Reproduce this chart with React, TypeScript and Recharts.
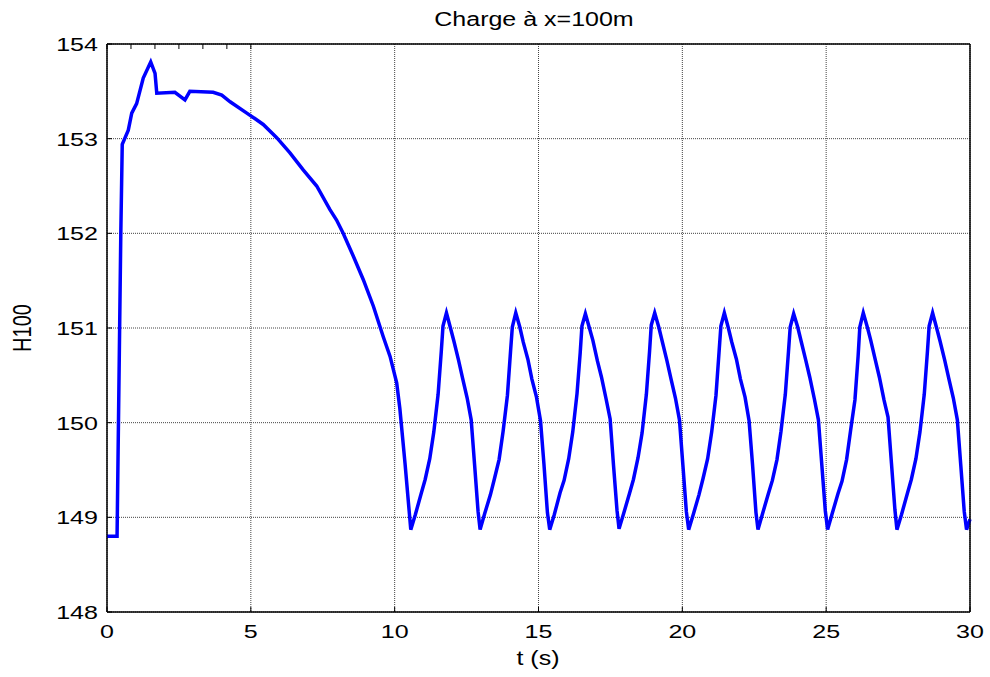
import { LineChart, Line, XAxis, YAxis, CartesianGrid, ReferenceArea } from 'recharts';

const T_TICKS = [0, 5, 10, 15, 20, 25, 30];
const H_TICKS = [148, 149, 150, 151, 152, 153, 154];

// start-up: valve opening then slow decay of the head
const START_T = [
  0, 0.35, 0.48, 0.53, 0.74, 0.86, 1.03, 1.26, 1.52, 1.67, 1.73, 2.36, 2.71, 2.88, 3.69, 3.99, 4.28,
  4.86, 5.2, 5.43, 5.9, 6.36, 6.82, 7.29, 7.75, 7.98, 8.21, 8.56, 8.91, 9.26, 9.6, 9.84, 10.07, 10.18, 10.36,
];
const START_H = [
  148.8, 148.8, 152.0, 152.94, 153.09, 153.27, 153.37, 153.64, 153.81, 153.69, 153.48, 153.49, 153.41,
  153.5, 153.49, 153.46, 153.39, 153.27, 153.2, 153.15, 153.01, 152.85, 152.67, 152.5, 152.25, 152.14,
  152.0, 151.76, 151.51, 151.23, 150.91, 150.7, 150.42, 150.15, 149.57,
];

// periodic regime
const OSC_T = [
  10.56, 10.72, 10.92, 11.06, 11.22, 11.36, 11.51, 11.62, 11.68, 11.8, 11.94, 12.06, 12.22, 12.36, 12.52, 12.66, 12.78, 12.9,
  12.97, 13.13, 13.33, 13.47, 13.63, 13.77, 13.92, 14.03, 14.09, 14.21, 14.35, 14.47, 14.63, 14.77, 14.93, 15.07, 15.19, 15.31,
  15.39, 15.55, 15.75, 15.89, 16.05, 16.19, 16.34, 16.45, 16.51, 16.63, 16.77, 16.89, 17.05, 17.19, 17.35, 17.49, 17.61, 17.73,
  17.8, 17.96, 18.16, 18.3, 18.46, 18.6, 18.75, 18.86, 18.92, 19.04, 19.18, 19.3, 19.46, 19.6, 19.76, 19.9, 20.02, 20.14,
  20.22, 20.38, 20.58, 20.72, 20.88, 21.02, 21.17, 21.28, 21.34, 21.46, 21.6, 21.72, 21.88, 22.02, 22.18, 22.32, 22.44, 22.56,
  22.63, 22.79, 22.99, 23.13, 23.29, 23.43, 23.58, 23.69, 23.75, 23.87, 24.01, 24.13, 24.29, 24.43, 24.59, 24.73, 24.85, 24.97,
  25.05, 25.21, 25.41, 25.55, 25.71, 25.85, 26.0, 26.11, 26.17, 26.29, 26.43, 26.55, 26.71, 26.85, 27.01, 27.15, 27.27, 27.39,
  27.46, 27.62, 27.82, 27.96, 28.12, 28.26, 28.41, 28.52, 28.58, 28.7, 28.84, 28.96, 29.12, 29.26, 29.42, 29.56, 29.68, 29.8,
  29.88, 30.0,
];
const OSC_H = [
  148.87, 149.03, 149.25, 149.4, 149.62, 149.9, 150.3, 150.75, 151.02, 151.16, 151.0, 150.86, 150.66, 150.47, 150.26, 150.03, 149.55, 149.06,
  148.87, 149.04, 149.24, 149.41, 149.61, 149.91, 150.29, 150.76, 151.01, 151.16, 151.01, 150.85, 150.67, 150.46, 150.27, 150.02, 149.56, 149.05,
  148.87, 149.03, 149.26, 149.39, 149.62, 149.9, 150.31, 150.74, 151.02, 151.15, 151.0, 150.87, 150.65, 150.48, 150.25, 150.04, 149.54, 149.07,
  148.88, 149.04, 149.25, 149.4, 149.63, 149.89, 150.3, 150.75, 151.03, 151.16, 151.01, 150.86, 150.66, 150.47, 150.26, 150.03, 149.55, 149.06,
  148.87, 149.03, 149.24, 149.41, 149.62, 149.9, 150.29, 150.76, 151.02, 151.16, 151.0, 150.85, 150.67, 150.46, 150.27, 150.02, 149.56, 149.05,
  148.87, 149.04, 149.25, 149.39, 149.61, 149.91, 150.3, 150.75, 151.01, 151.15, 151.01, 150.86, 150.66, 150.48, 150.25, 150.03, 149.55, 149.07,
  148.87, 149.04, 149.25, 149.38, 149.61, 149.92, 150.24, 150.7, 151.01, 151.16, 151.01, 150.87, 150.66, 150.48, 150.24, 150.06, 149.57, 149.08,
  148.87, 149.03, 149.25, 149.4, 149.62, 149.9, 150.3, 150.75, 151.02, 151.16, 151.0, 150.86, 150.66, 150.47, 150.26, 150.03, 149.55, 149.06,
  148.87, 148.98,
];

const data = [
  ...START_T.map((t, i) => ({ t, h: START_H[i] })),
  ...OSC_T.map((t, i) => ({ t, h: OSC_H[i] })),
];

const FONT = '"Liberation Sans", Arial, Helvetica, sans-serif';
const STRETCH = 1.32;

const XTick = (props: any) => {
  const { x, y, payload } = props;
  return (
    <g transform={`translate(${x},${y}) scale(${STRETCH},1)`}>
      <text x={0} y={0} dy="0.72em" textAnchor="middle" fill="#000" fontSize={19} fontFamily={FONT}>
        {payload.value}
      </text>
    </g>
  );
};

const YTick = (props: any) => {
  const { x, y, payload } = props;
  return (
    <g transform={`translate(${x},${y}) scale(${STRETCH},1)`}>
      <text x={0} y={0} dy="0.36em" textAnchor="end" fill="#000" fontSize={19} fontFamily={FONT}>
        {payload.value}
      </text>
    </g>
  );
};

export default function App() {
  return (
    <div style={{ position: 'absolute', left: 0, top: 0, width: 990, height: 677, background: '#fff', fontFamily: FONT }}>
      <div
        style={{
          position: 'absolute', left: 334, top: 9, width: 400, textAlign: 'center',
          fontSize: 20, lineHeight: '20px', transform: `scaleX(1.25)`, color: '#000',
        }}
      >
        Charge à x=100m
      </div>
      <div
        style={{
          position: 'absolute', left: 438, top: 648, width: 200, textAlign: 'center',
          fontSize: 20, lineHeight: '20px', transform: `scaleX(1.25)`, color: '#000',
        }}
      >
        t (s)
      </div>
      <div
        style={{
          position: 'absolute', left: 22, top: 328, fontSize: 20, lineHeight: '20px', whiteSpace: 'nowrap',
          transform: `translate(-50%,-50%) scale(1.3,1) rotate(-90deg)`, color: '#000',
        }}
      >
        H100
      </div>
      <LineChart
        width={990}
        height={677}
        data={data}
        margin={{ top: 44, right: 20, bottom: 0, left: 47 }}
        style={{ position: 'absolute', left: 0, top: 0 }}
      >
        <CartesianGrid stroke="#444" strokeDasharray="1 1" />
        <XAxis
          dataKey="t"
          type="number"
          domain={[0, 30]}
          ticks={T_TICKS}
          height={65}
          axisLine={{ stroke: '#000' }}
          tickLine={{ stroke: '#000' }}
          tickSize={-5}
          tickMargin={17}
          tick={<XTick />}
        />
        <XAxis
          xAxisId="top"
          orientation="top"
          type="number"
          domain={[0, 30]}
          ticks={T_TICKS}
          mirror
          height={1}
          axisLine={{ stroke: '#000' }}
          tickLine={{ stroke: '#000' }}
          tickSize={5}
          tickFormatter={() => ''}
        />
        <YAxis
          type="number"
          domain={[148, 154]}
          ticks={H_TICKS}
          width={60}
          axisLine={{ stroke: '#000' }}
          tickLine={{ stroke: '#000' }}
          tickSize={-5}
          tickMargin={14}
          tick={<YTick />}
        />
        <YAxis
          yAxisId="r"
          orientation="right"
          type="number"
          domain={[148, 154]}
          ticks={H_TICKS}
          mirror
          width={1}
          axisLine={{ stroke: '#000' }}
          tickLine={{ stroke: '#000' }}
          tickSize={5}
          tickFormatter={() => ''}
        />
        <ReferenceArea x1={0} x2={30} y1={148} y2={154} fill="none" stroke="#000" strokeWidth={1} ifOverflow="visible" />
        <Line
          type="linear"
          dataKey="h"
          stroke="#0000ff"
          strokeWidth={3.5}
          dot={false}
          isAnimationActive={false}
        />
      </LineChart>
    </div>
  );
}
